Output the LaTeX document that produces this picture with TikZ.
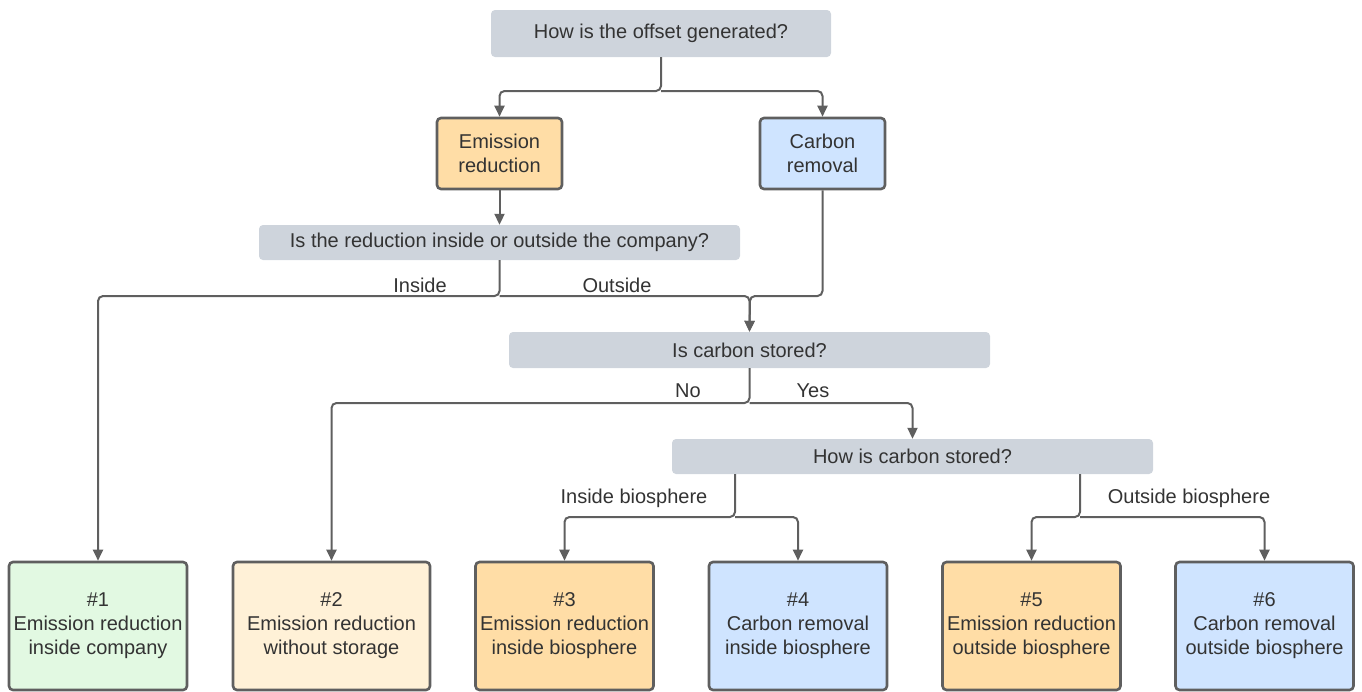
\documentclass[tikz,border=0pt]{standalone}
\usepackage{fontspec}
\setmainfont{Liberation Sans}
\usepackage{xcolor}
\usetikzlibrary{arrows.meta}

\definecolor{qgray}{HTML}{CED4DC}
\definecolor{edgegray}{HTML}{5F5F5F}
\definecolor{txtgray}{HTML}{333333}
\definecolor{redorange}{HTML}{FFDDA6}
\definecolor{remblue}{HTML}{CFE4FF}
\definecolor{ingreen}{HTML}{E2F9E2}
\definecolor{nocream}{HTML}{FFF1D7}

\tikzset{
  question/.style={fill=qgray, rounded corners=4pt, inner sep=0pt, text=txtgray},
  kind/.style={draw=edgegray, line width=2.6pt, rounded corners=4pt, inner sep=0pt,
    minimum width=125pt, minimum height=71pt, align=center, text=txtgray},
  result/.style={draw=edgegray, line width=2.6pt, rounded corners=4pt, inner sep=0pt,
    minimum width=178pt, minimum height=128pt, align=center, text=txtgray},
  flow/.style={draw=edgegray, line width=2pt, rounded corners=5pt,
    -{Triangle[length=11pt,width=10pt]}},
  branch/.style={text=txtgray}
}

\begin{document}
\begin{tikzpicture}[x=1pt, y=-1pt, font=\fontsize{20}{24}\selectfont]
  \useasboundingbox (0,0) rectangle (1362,691);

  % questions
  \node[question, minimum width=340pt, minimum height=47pt] (q1) at (661,33.5) {How is the offset generated?};
  \node[question, minimum width=481pt, minimum height=35pt] (q2) at (499.5,242.5) {Is the reduction inside or outside the company?};
  \node[question, minimum width=481pt, minimum height=36pt] (q3) at (749.5,350) {Is carbon stored?};
  \node[question, minimum width=481pt, minimum height=35pt] (q4) at (912.5,456.5) {How is carbon stored?};

  % kinds of offset
  \node[kind, fill=redorange] (er) at (499.5,153.5) {Emission\\reduction};
  \node[kind, fill=remblue] (cr) at (822.5,153.5) {Carbon\\removal};

  % results
  \node[result, fill=ingreen] (r1) at (98,626) {\#1\\Emission reduction\\inside company};
  \node[result, fill=nocream, minimum width=197pt] (r2) at (331.5,626) {\#2\\Emission reduction\\without storage};
  \node[result, fill=redorange] (r3) at (564.5,626) {\#3\\Emission reduction\\inside biosphere};
  \node[result, fill=remblue] (r4) at (798,626) {\#4\\Carbon removal\\inside biosphere};
  \node[result, fill=redorange] (r5) at (1031.5,626) {\#5\\Emission reduction\\outside biosphere};
  \node[result, fill=remblue] (r6) at (1264.5,626) {\#6\\Carbon removal\\outside biosphere};

  % junctions
  \coordinate (s1) at (661,91);
  \coordinate (s2) at (499.5,296);
  \coordinate (m3) at (750,296);
  \coordinate (s3) at (749.5,403);
  \coordinate (s4a) at (735,517);
  \coordinate (s4b) at (1080,517);

  \draw[flow] (q1.south) -- (s1) -| (er.north);
  \draw[flow] (s1) -| (cr.north);
  \draw[flow] (er.south) -- (q2.north);

  \draw[flow] (q2.south) -- (s2) -| (r1.north);
  \draw[flow] (s2) -| (q3.north);
  \draw[flow] (cr.south) |- (m3) -- (q3.north);

  \draw[flow] (q3.south) -- (s3) -| (r2.north);
  \draw[flow] (s3) -| (q4.north);

  \draw[flow] (q4.south -| s4a) -- (s4a) -| (r3.north);
  \draw[flow] (s4a) -| (r4.north);
  \draw[flow] (q4.south -| s4b) -- (s4b) -| (r5.north);
  \draw[flow] (s4b) -| (r6.north);

  % branch labels
  \node[branch] (lin) at (420,285) {Inside};
  \node[branch] (lout) at (617,285) {Outside};
  \node[branch] (lno) at (688,391) {No};
  \node[branch] (lyes) at (813,391) {Yes};
  \node[branch] (lib) at (634,498) {Inside biosphere};
  \node[branch] (lob) at (1189,498) {Outside biosphere};
\end{tikzpicture}
\end{document}
